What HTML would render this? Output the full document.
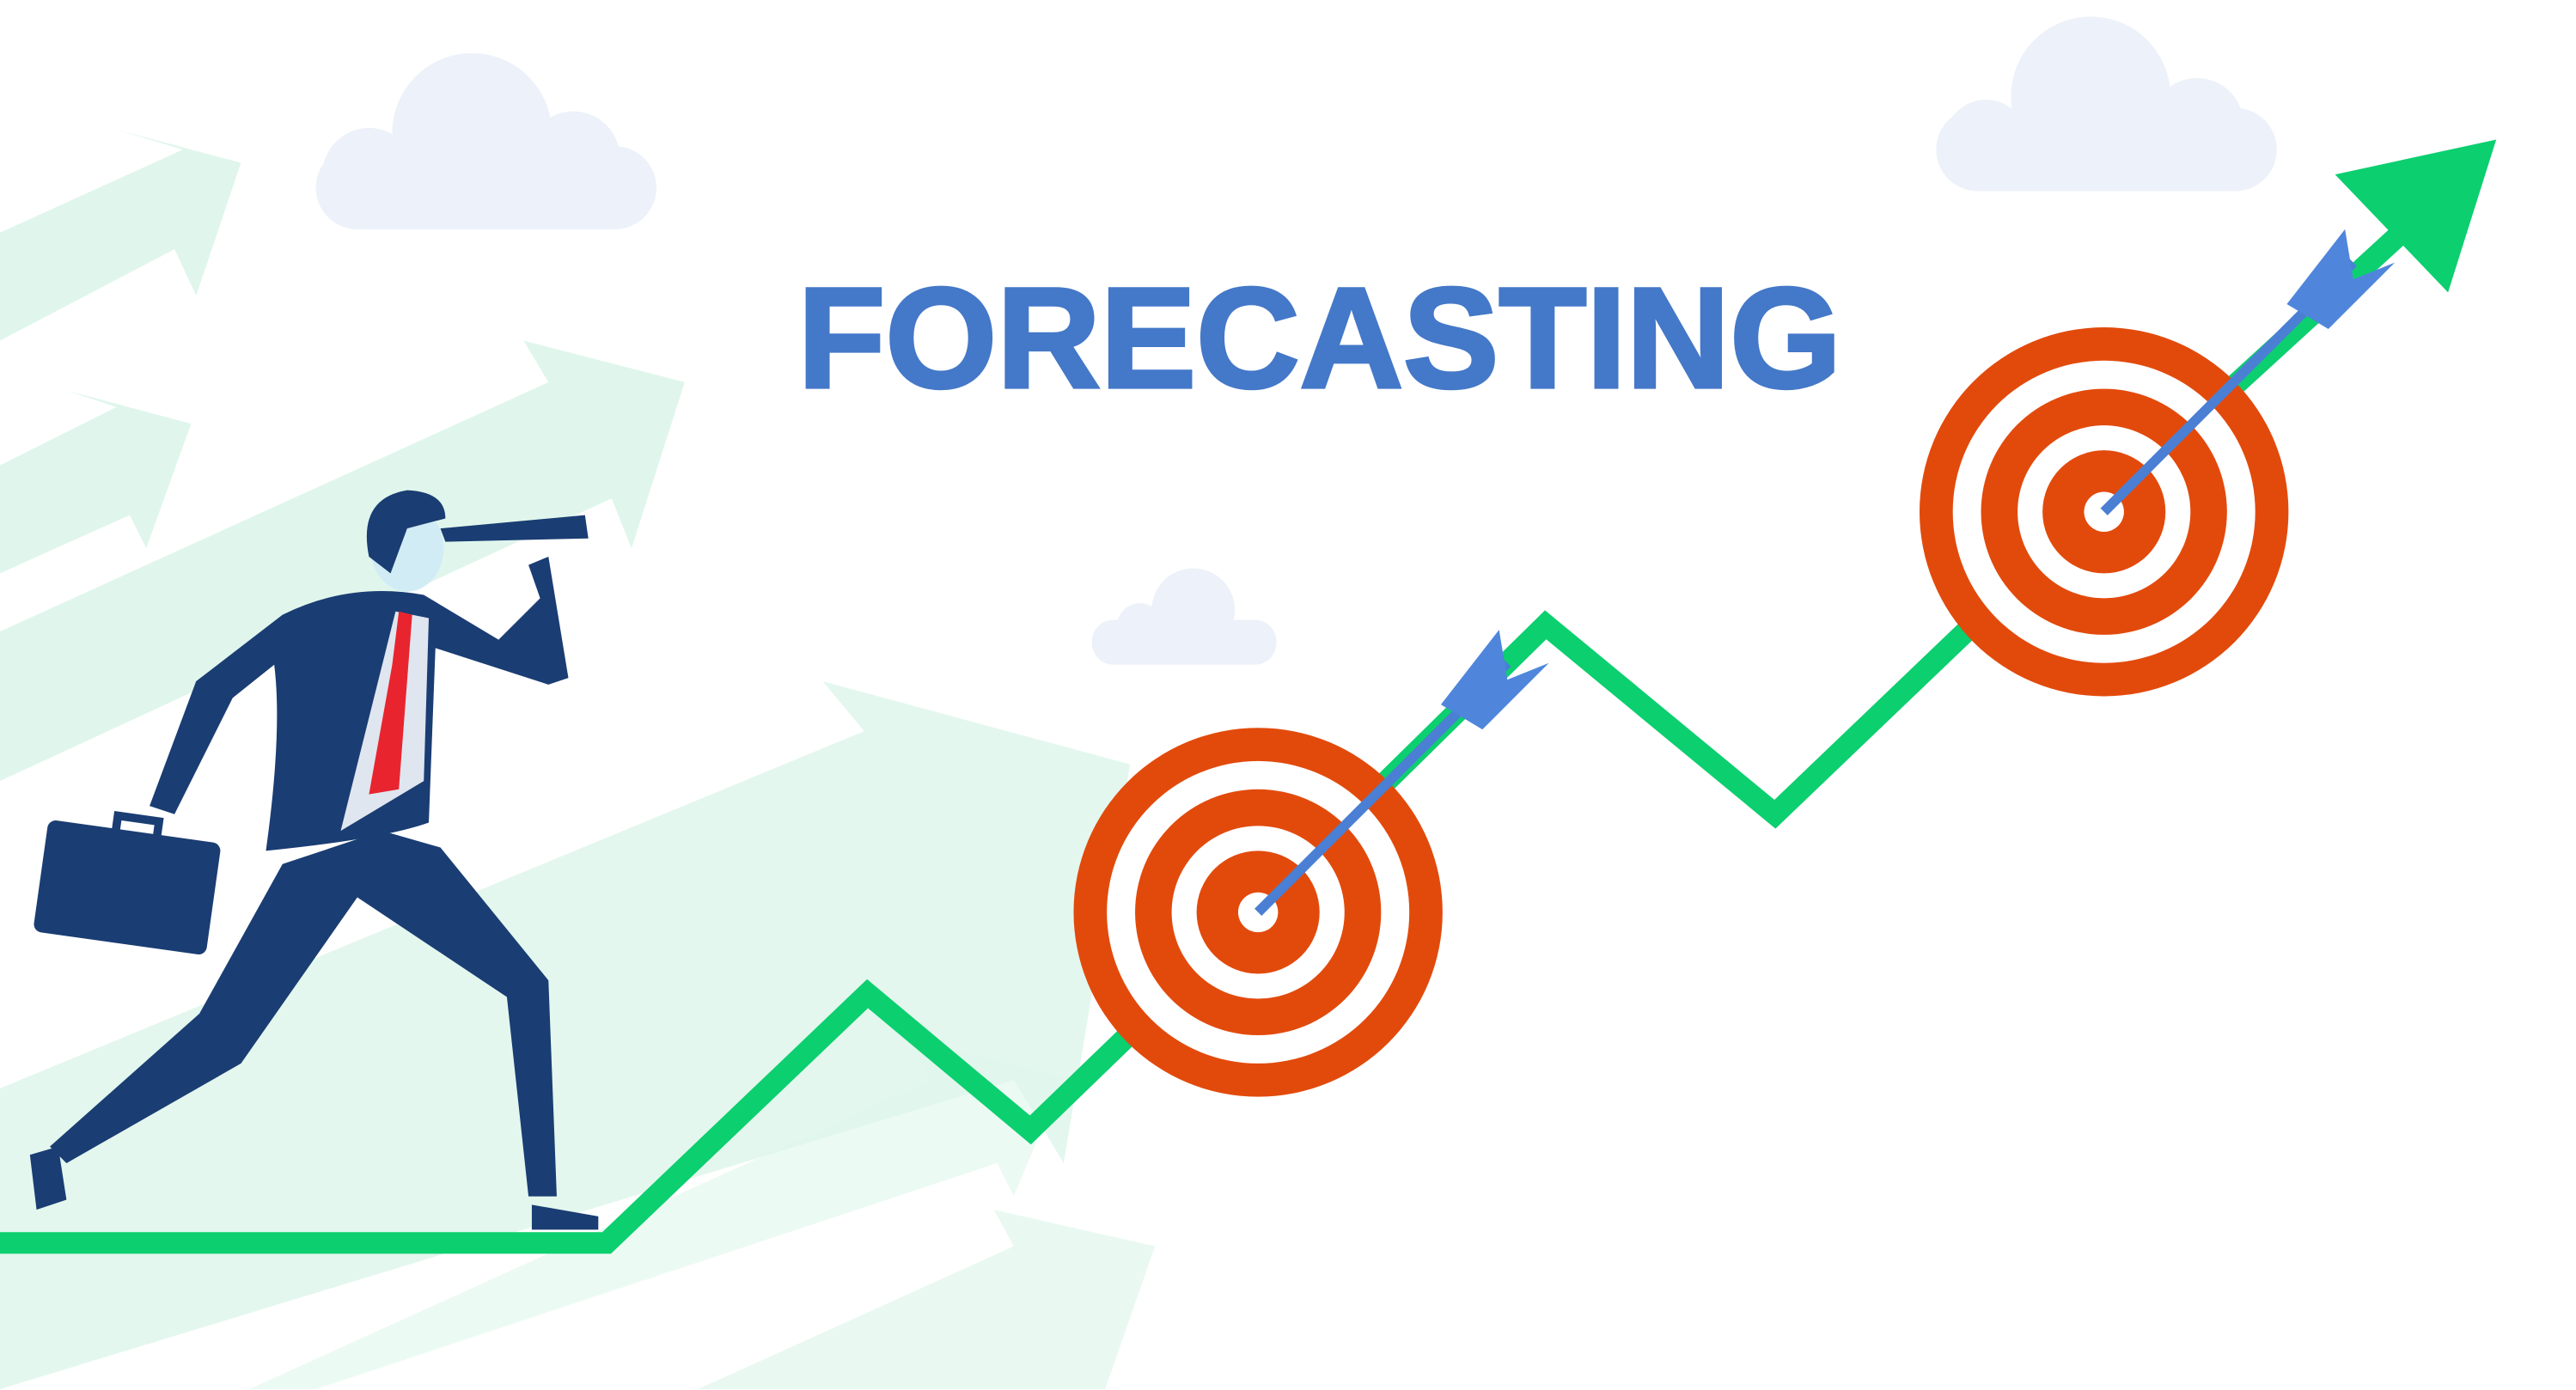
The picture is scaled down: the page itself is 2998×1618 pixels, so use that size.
<!DOCTYPE html>
<html><head><meta charset="utf-8"><style>
html,body{margin:0;padding:0;background:#fff;}
svg{display:block;width:2998px;height:1618px;}
</style></head><body>
<svg id="art" viewBox="0 0 1550 836.5" preserveAspectRatio="none" xmlns="http://www.w3.org/2000/svg">
<g fill="#e0f6ec">
 <polygon points="0,140 110,90 70,78 145,98 118,178 105,150 0,205"/>
 <polygon points="0,380 330,230 315,205 412,230 380,330 368,300 0,470"/>
 <polygon points="0,280 70,245 40,235 115,255 88,330 78,310 0,345"/>
 <polygon points="0,655 520,440 495,410 680,460 640,700 610,650 0,836" opacity="0.9"/>
 <polygon points="420,836 610,750 598,728 695,750 665,836" opacity="0.7"/>
 <polygon points="150,836 560,650 545,625 640,648 610,720 600,700 190,836" opacity="0.6"/>
</g>
<g fill="#edf1f9">
 <g><rect x="190" y="88" width="205" height="50" rx="25"/><circle cx="284" cy="80" r="48"/><circle cx="345" cy="95" r="28"/><circle cx="222" cy="105" r="28"/></g>
 <g><rect x="1165" y="65" width="205" height="50" rx="25"/><circle cx="1258" cy="58" r="48"/><circle cx="1322" cy="75" r="28"/><circle cx="1195" cy="85" r="25"/></g>
 <g><rect x="657" y="373" width="111" height="27" rx="13"/><circle cx="718" cy="367" r="25"/><circle cx="686" cy="377" r="14"/></g>
</g>
<text x="480" y="233" font-family="'Liberation Sans',sans-serif" font-weight="bold" font-size="86" fill="#4478c8" stroke="#4478c8" stroke-width="2" textLength="628" lengthAdjust="spacingAndGlyphs">FORECASTING</text>
<g id="trend"></g>
<polygon points="1405,105 1502,84 1473,176" fill="#0ccf6f"/>
<g id="targets"></g>
<g>
 <polygon points="230,500 265,510 330,590 335,720 318,720 305,600 215,540 145,640 40,700 30,690 120,610 170,520" fill="#1a3d73"/>
 <polygon points="18,695 35,690 40,722 22,728" fill="#1a3d73"/>
 <polygon points="320,725 360,732 360,740 320,740" fill="#1a3d73"/>
 <path d="M170,370 Q210,350 255,358 L300,385 L325,360 L318,340 L330,335 L342,408 L330,412 L262,390 L258,495 Q230,505 160,512 Q170,440 165,400 L140,420 L105,490 L90,485 L118,410 Z" fill="#1a3d73"/>
 <polygon points="238,368 258,372 255,470 205,500" fill="#dfe6ef"/>
 <polygon points="240,368 248,370 240,475 222,478 236,400" fill="#e8252f"/>
 <ellipse cx="245" cy="330" rx="22" ry="26" fill="#d2ecf6"/>
 <path d="M222,335 Q215,300 245,295 Q268,296 268,312 L245,318 L235,345 Z" fill="#1a3d73"/>
 <polygon points="265,318 352,310 354,324 268,326" fill="#1a3d73"/>
 <rect x="24" y="500" width="105" height="68" rx="5" fill="#1a3d73" transform="rotate(8 76 534)"/>
 <rect x="65" y="492" width="25" height="12" fill="none" stroke="#1a3d73" stroke-width="5" transform="rotate(8 76 534)"/>
</g>
<script>
// trend line waypoints (x position, level)
const trendX = [0, 365, 522, 620, 680, 930, 1068, 1185, 1445];
const trendY = [748, 748, 598, 680, 622, 376, 490, 378, 140];
const targetCx = [757, 1266];
const targetCy = [549, 308];
const ringR = [111, 91, 74, 52, 37, 12];
const NS='http://www.w3.org/2000/svg';
const trend=document.getElementById('trend');
const pl=document.createElementNS(NS,'polyline');


pl.setAttribute('points',trendX.map((x,i)=>x+','+trendY[i]).join(' '));
pl.setAttribute('fill','none');pl.setAttribute('stroke','#0ccf6f');pl.setAttribute('stroke-width','13');pl.setAttribute('stroke-linejoin','miter');
trend.appendChild(pl);
const tg=document.getElementById('targets');
targetCx.forEach((cx,i)=>{
 const cy=targetCy[i];
 const g=document.createElementNS(NS,'g');
 
 
 ringR.forEach((r,k)=>{
  const c=document.createElementNS(NS,'circle');
  
  
  c.setAttribute('cx',cx);c.setAttribute('cy',cy);c.setAttribute('r',r);
  c.setAttribute('fill',k%2===0?'#e24a0c':'#ffffff');
  g.appendChild(c);
 });
 const sh=document.createElementNS(NS,'line');
 
 
 sh.setAttribute('x1',cx);sh.setAttribute('y1',cy);sh.setAttribute('x2',cx+150);sh.setAttribute('y2',cy-150);
 sh.setAttribute('stroke','#4a7fd4');sh.setAttribute('stroke-width','6');
 g.appendChild(sh);
 const f=document.createElementNS(NS,'polygon');
 
 
 const fx=cx+130,fy=cy-130;
 f.setAttribute('points',[[fx-20,fy+5],[fx+15,fy-40],[fx+20,fy-10],[fx+45,fy-20],[fx+10,fy+15],[fx+5,fy+20]].map(p=>p.join(',')).join(' '));
 f.setAttribute('fill','#4f86dc');
 g.appendChild(f);
 tg.appendChild(g);
});
</script>
</svg>
</body></html>
